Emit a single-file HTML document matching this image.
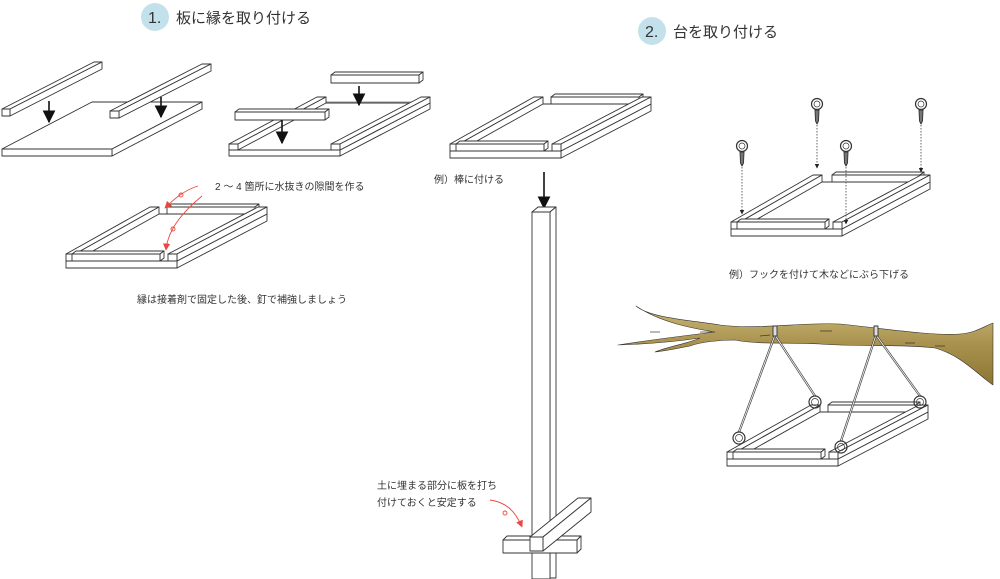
<!DOCTYPE html>
<html><head><meta charset="utf-8"><style>
html,body{margin:0;padding:0;background:#fff;}
svg{display:block;}
text{font-family:"Liberation Sans","Noto Sans CJK JP",sans-serif;fill:#333;}
</style></head><body>
<svg id="s" width="1000" height="579" viewBox="0 0 1000 579" xmlns="http://www.w3.org/2000/svg">
<defs>
<linearGradient id="wood" x1="0" y1="0" x2="0" y2="1">
<stop offset="0" stop-color="#c9b878"/><stop offset="0.5" stop-color="#a8904c"/><stop offset="1" stop-color="#8d7535"/>
</linearGradient>
<marker id="ah" viewBox="0 0 10 10" refX="9" refY="5" markerWidth="8" markerHeight="8" orient="auto"><path d="M0,0L10,5L0,10z" fill="#111"/></marker>
<marker id="rh" viewBox="0 0 10 10" refX="9" refY="5" markerWidth="8" markerHeight="8" orient="auto"><path d="M0,0L10,5L0,10z" fill="#e8483f"/></marker>
<marker id="sh" viewBox="0 0 10 10" refX="9" refY="5" markerWidth="5" markerHeight="5" orient="auto"><path d="M0,0L10,5L0,10z" fill="#222"/></marker>
</defs>
<circle cx="155" cy="17" r="14" fill="#c3e1ea"/>
<text x="148" y="23" font-size="16">1.</text>
<text x="176" y="23" font-size="15">板に縁を取り付ける</text>
<circle cx="652" cy="31" r="14" fill="#c3e1ea"/>
<text x="645" y="37" font-size="16">2.</text>
<text x="673" y="37" font-size="15">台を取り付ける</text>
<text x="215" y="190" font-size="10">2 ～ 4 箇所に水抜きの隙間を作る</text>
<text x="137" y="303" font-size="10">縁は接着剤で固定した後、釘で補強しましょう</text>
<text x="434" y="183" font-size="10">例）棒に付ける</text>
<text x="377" y="489" font-size="10">土に埋まる部分に板を打ち</text>
<text x="377" y="506" font-size="10">付けておくと安定する</text>
<text x="729" y="278" font-size="10">例）フックを付けて木などにぶら下げる</text>
<g id="g" fill="#fff" stroke="#333" stroke-width="0.9" stroke-linejoin="round"></g>
</svg>
<script>
var g=document.getElementById('g'),NS='http://www.w3.org/2000/svg';
function el(t,a){var e=document.createElementNS(NS,t);for(var k in a)e.setAttribute(k,a[k]);g.appendChild(e);return e;}
function P(pts){return pts.map(function(p){return p[0]+','+p[1]}).join(' ');}
function box(x,y,w,h,dx,dy){
 el('polygon',{points:P([[x,y-h],[x+w,y-h],[x+w+dx,y-h+dy],[x+dx,y-h+dy]])});
 el('polygon',{points:P([[x+w,y-h],[x+w+dx,y-h+dy],[x+w+dx,y+dy],[x+w,y]])});
 el('rect',{x:x,y:y-h,width:w,height:h});
}
function arrow(x1,y1,x2,y2){el('line',{x1:x1,y1:y1,x2:x2,y2:y2,stroke:'#111','stroke-width':1.6,'marker-end':'url(#ah)'});}
function tray(x,y,dx,dy){
 box(x,y,111,7,dx,dy);
 box(x+101,y-7+dy,88,7,4,-3);
 box(x,y-7,9,7,dx-6,dy);
 box(x+102,y-7,9,7,dx,dy);
 box(x+6,y-7,88,7,4,-3);
}
// Panel 1a
box(2,156,110,7,90,-47);
box(2,116,8,7,92,-47);
arrow(49,101,49,122);
box(110,118,9,7,92,-47);
arrow(161,97,161,117);
// Panel 1b
box(229,156,111,6,90,-47);
el('line',{x1:322,y1:102,x2:412,y2:102,stroke:'#999'});
box(229,150,9,6,88,-47);
box(331,150,9,6,90,-47);
box(235,120,90,8,4,-3);
arrow(282,120,282,143);
box(331,83,88,8,4,-3);
arrow(359,86,359,105);
// Panel 1c
tray(66,268,90,-47);
// Panel 1d
tray(450,158,90,-47);
arrow(544,172,544,208);
// post
el('polygon',{points:'532,212 538,207 556,207 550,212'});
el('polygon',{points:'550,212 556,207 556,578 550,578'});
el('rect',{x:532,y:212,width:18,height:367});
box(503,553,74,13,4,-4);
box(530,551,13,14,48,-39);
// hook tray
tray(731,236,88,-47);
function hook(x,y){
 el('circle',{cx:x,cy:y,r:5.5,fill:'#fff','stroke-width':1.2});
 el('circle',{cx:x,cy:y,r:3,fill:'#fff','stroke-width':0.7});
 el('polygon',{points:P([[x-2,y+6],[x+2,y+6],[x+1.5,y+17],[x,y+20],[x-1.5,y+17]]),fill:'#777'});
}
var H=[[742,146,214],[817,104,168],[846,146,224],[921,104,172]];
H.forEach(function(h){hook(h[0],h[1]);el('line',{x1:h[0],y1:h[1]+21,x2:h[0],y2:h[2],stroke:'#555','stroke-dasharray':'1.5,1.5','marker-end':'url(#sh)'});});
// tree
el('path',{d:'M636,306 C650,318 690,320 720,325 C760,330 800,322 840,324 C880,328 930,336 960,334 C975,333 985,326 993,323 L993,385 C975,372 960,355 935,348 C900,344 860,347 820,344 C790,342 760,345 735,340 C720,340 700,342 690,346 C680,348 665,351 655,352 C670,346 690,343 700,338 C680,341 650,344 618,345 C650,340 690,335 715,332 C690,328 660,322 636,306 Z',fill:'url(#wood)',stroke:'#333','stroke-width':0.6});
[[700,332,712,332],[760,336,770,335],[820,331,832,331],[905,343,915,343],[935,346,945,346],[650,332,660,332]].forEach(function(l){el('line',{x1:l[0],y1:l[1],x2:l[2],y2:l[3],stroke:'#333','stroke-width':0.7});});
// hanging tray
tray(727,466,90,-47);
function rope(x1,y1,x2,y2){el('line',{x1:x1,y1:y1,x2:x2,y2:y2,stroke:'#444','stroke-width':2.2});el('line',{x1:x1,y1:y1,x2:x2,y2:y2,stroke:'#fff','stroke-width':0.8});}
rope(775,335,739,432);rope(775,335,815,396);rope(876,335,841,441);rope(876,335,920,396);
el('rect',{x:773,y:326,width:4,height:10,fill:'#ddd'});el('rect',{x:874,y:326,width:4,height:10,fill:'#ddd'});
[[739,438],[815,402],[841,447],[920,402]].forEach(function(c){el('circle',{cx:c[0],cy:c[1],r:6,fill:'none','stroke-width':1.2});el('circle',{cx:c[0],cy:c[1],r:3.5,fill:'none','stroke-width':0.7});});
// red curves
function red(d){el('path',{d:d,fill:'none',stroke:'#e8483f','stroke-width':0.9,'marker-end':'url(#rh)'});}
red('M198,186 C185,190 175,198 165,208');
red('M202,196 C185,210 168,228 166,250');
red('M490,500 C505,502 515,510 522,527');
el('circle',{cx:181,cy:195,r:2,fill:'none',stroke:'#e8483f'});
el('circle',{cx:173,cy:229,r:2,fill:'none',stroke:'#e8483f'});
el('circle',{cx:505,cy:513,r:2,fill:'none',stroke:'#e8483f'});
</script>
</body></html>
